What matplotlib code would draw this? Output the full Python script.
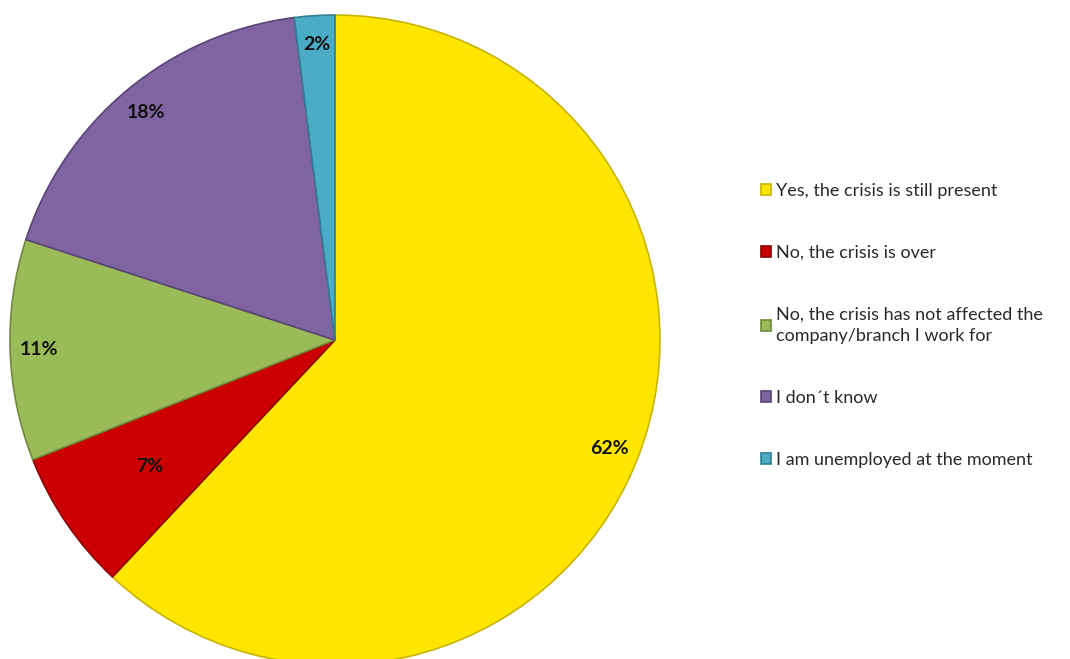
import matplotlib
matplotlib.use('Agg')
import matplotlib.pyplot as plt

# Survey answers: is the crisis still affecting you?
labels = ['Yes, the crisis is still present',
          'No, the crisis is over',
          'No, the crisis has not affected the\ncompany/branch I work for',
          'I don\u00b4t know',
          'I am unemployed at the moment']
shares = [62, 7, 11, 18, 2]
colors = ['#FFE600', '#CC0000', '#9BBB59', '#8064A2', '#4BACC6']
edges = ['#C8B400', '#8A0000', '#6F8A3A', '#5A4478', '#2F7F95']

plt.rcParams['font.family'] = ['Lato', 'DejaVu Sans']

fig = plt.figure(figsize=(10.7, 6.59), dpi=100)
ax = fig.add_axes([0.0093, -0.0091, 0.6075, 0.9863])

wedges, texts, autotexts = ax.pie(
    shares, colors=colors, startangle=90, counterclock=False,
    autopct='%d%%', pctdistance=0.91,
    wedgeprops=dict(linewidth=1.2),
    textprops=dict(fontsize=14, fontweight='bold', color='#111111'))
for w, ec in zip(wedges, edges):
    w.set_edgecolor(ec)

# Excel "best fit" pulls the small red label inward
x, y = autotexts[1].get_position()
autotexts[1].set_position((x * 0.69 / 0.91, y * 0.69 / 0.91))
ax.set_xlim(-1.0, 1.0)
ax.set_ylim(-1.0, 1.0)
ax.set_aspect('equal')

leg = fig.legend(wedges, labels, loc='upper left',
                 bbox_to_anchor=(0.696, 0.747), frameon=False,
                 fontsize=13, labelspacing=2.55, handlelength=0.55,
                 handleheight=0.55, handletextpad=0.3)
for t in leg.get_texts():
    t.set_color('#2a2a2a')
    t.set_linespacing(1.35)

fig.savefig('out.png', dpi=100)
